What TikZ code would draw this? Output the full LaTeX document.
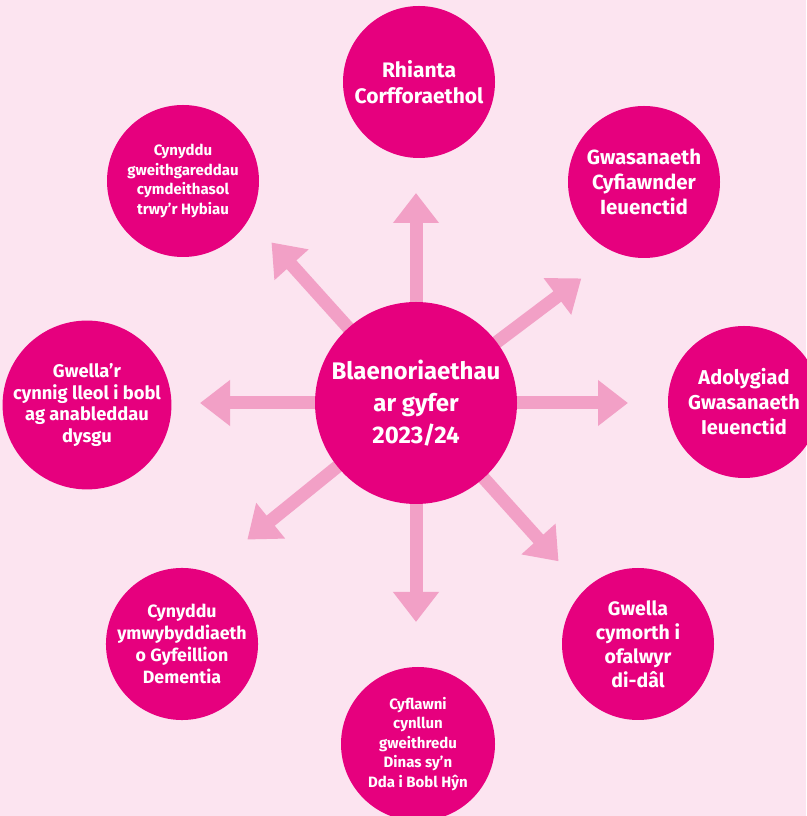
\documentclass[tikz,border=0pt]{standalone}
\usepackage{fontspec}
\setmainfont{Fira Sans}
\usetikzlibrary{arrows.meta}
\definecolor{bgpink}{RGB}{252,228,240}
\definecolor{spokepink}{RGB}{242,160,198}
\definecolor{hubpink}{RGB}{230,0,126}
\tikzset{
  goal/.style={circle,fill=hubpink,text=white,align=center,inner sep=0pt,minimum size=152pt},
  spoke/.style={line width=13pt,draw=spokepink,-{Triangle[width=44pt,length=30pt]}},
}
\newcommand{\fs}[2]{\fontsize{#1}{#2}\selectfont\bfseries}

\begin{document}
\begin{tikzpicture}[x=1pt,y=1pt]
  \fill[bgpink] (0,0) rectangle (806,816);
  \useasboundingbox (0,0) rectangle (806,816);
  \coordinate (mid) at (416,413);
  % spokes from the middle, hidden under the hub
  \foreach \a/\l [count=\i] in {90/210,37/207,0/212,-48/213,-90/219,-141/217,180/216,132/216} {
    \path (mid) ++(\a:\l) coordinate (tip\i);
    \draw[spoke] (mid) -- (tip\i);
  }
  \node[goal,minimum size=202pt,font=\fs{24}{32}] (hub) at (mid) {Blaenoriaethau\\ar gyfer\\2023/24};
  % outer goals
  \node[goal,font=\fs{21}{26}] (rhianta) at (419,734) {Rhianta\\Corfforaethol};
  \node[goal,font=\fs{20.5}{25}] (cyfiawnder) at (644,634) {Gwasanaeth\\Cyfiawnder\\Ieuenctid};
  \node[goal,font=\fs{20}{25}] (adolygiad) at (744,414) {Adolygiad\\Gwasanaeth\\Ieuenctid};
  \node[goal,font=\fs{19.5}{24}] (gofalwyr) at (638,172) {Gwella\\cymorth i\\ofalwyr\\di-dâl};
  \node[goal,minimum size=154pt,font=\fs{15}{19.5}] (hyn) at (418,72) {Cyflawni\\cynllun\\gweithredu\\Dinas sy’n\\Dda i Bobl Hŷn};
  \node[goal,font=\fs{17.8}{22}] (dementia) at (182,172) {Cynyddu\\ymwybyddiaeth\\o Gyfeillion\\Dementia};
  \node[goal,font=\fs{18.3}{21.5}] (anabledd) at (87,411) {Gwella’r\\cynnig lleol i bobl\\ag anableddau\\dysgu};
  \node[goal,font=\fs{15}{19.5}] (hybiau) at (183,635) {Cynyddu\\gweithgareddau\\cymdeithasol\\trwy’r Hybiau};
\end{tikzpicture}
\end{document}
